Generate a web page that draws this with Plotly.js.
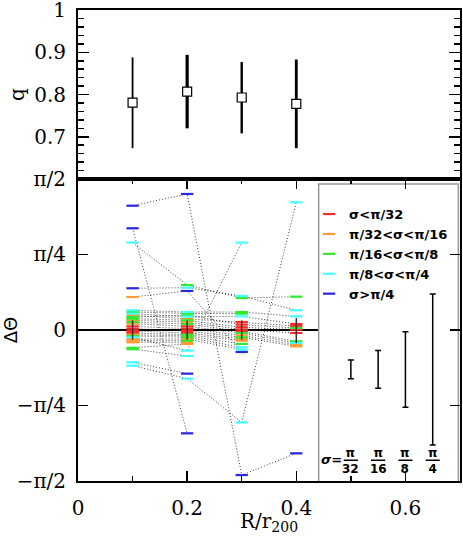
<!DOCTYPE html>
<html><head><meta charset="utf-8">
<script src="https://cdn.plot.ly/plotly-3.0.1.min.js"></script>
<style>html,body{margin:0;padding:0;background:#fff}#chart{width:463px;height:544px}</style>
</head><body><div id="chart"></div>
<script>
// ---------- data ----------
const radii = [0.1, 0.2, 0.3, 0.4];
const qMean = [0.781, 0.807, 0.793, 0.778];
const qHigh = [0.888, 0.894, 0.877, 0.883];
const qLow  = [0.673, 0.720, 0.708, 0.673];

const classLabels = ['σ<π/32', 'π/32<σ<π/16', 'π/16<σ<π/8', 'π/8<σ<π/4', 'σ>π/4'];

// Delta Theta (rad) of each galaxy at R/r200 = 0.1, 0.2, 0.3, 0.4
const dTheta = [
  [ 1.293,  1.415, -1.509, -1.283],
  [ 1.058, -1.075,  null,   null ],
  [ 0.909,  0.468,  0.333,  0.347],
  [ 0.434,  0.440,  0.354,  0.205],
  [ 0.343,  0.406, -0.229,  null ],
  [ 0.205,  0.187,  0.187,  0.142],
  [ 0.187,  0.173,  0.170,  null ],
  [ 0.170,  0.139,  0.142,  0.062],
  [ 0.153,  0.118,  0.083,  0.042],
  [ 0.135,  0.153,  0.056,  0.021],
  [ 0.118,  0.101,  0.028,  0.004],
  [ 0.101,  0.083,  0.004, -0.031],
  [ 0.083,  0.062, -0.014, -0.118],
  [ 0.066,  0.038, -0.031, -0.135],
  [ 0.038,  0.014, -0.056, -0.153],
  [ 0.014, -0.010, -0.076, -0.170],
  [-0.010, -0.031, -0.094,  null ],
  [-0.031, -0.049, -0.111,  null ],
  [-0.049, -0.062, -0.145,  null ],
  [-0.062, -0.076, -0.180,  null ],
  [-0.076, -0.215,  0.909,  null ],
  [-0.094, -0.094, -0.204,  null ],
  [-0.111, -0.111,  null,   null ],
  [-0.128, -0.128,  null,   null ],
  [-0.185, -0.145,  null,   null ],
  [-0.200, -0.270,  null,   null ],
  [-0.336, -0.454,  null,   null ],
  [-0.371, -0.506, -0.961,  1.329]
];
// sigma class of each measurement (0: <pi/32 ... 4: >pi/4)
const sigClass = [
  [4, 4, 4, 4],
  [4, 4, null, null],
  [3, 2, 2, 2],
  [4, 3, 3, 3],
  [1, 4, 4, null],
  [3, 3, 2, 3],
  [2, 2, 2, null],
  [3, 3, 3, 0],
  [1, 1, 0, 0],
  [2, 2, 0, 2],
  [2, 2, 0, 0],
  [1, 1, 0, 0],
  [2, 2, 0, 2],
  [1, 0, 2, 3],
  [0, 0, 1, 1],
  [0, 0, 2, 1],
  [0, 0, 1, null],
  [0, 2, 1, null],
  [1, 1, 2, null],
  [2, 2, 3, null],
  [3, 3, 3, null],
  [1, 1, 3, null],
  [1, 2, null, null],
  [1, 1, null, null],
  [2, 1, null, null],
  [2, 3, null, null],
  [3, 4, null, null],
  [3, 3, 3, 3]
];
const meanDTheta = [0.0, 0.0, 0.0, -0.005];
const errDTheta  = [0.10, 0.10, 0.10, 0.13];

const keyX = [0.5, 0.55, 0.6, 0.65];
const keySigma = [Math.PI / 32, Math.PI / 16, Math.PI / 8, Math.PI / 4];
const keyDenominators = ['32', '16', '8', '4'];
const keyCenter = -0.41;

// ---------- styles ----------
const classColors = ['#ff2a2a', '#ff9a33', '#2eea2e', '#44ffff', '#2828e0'];
const qBarWidths = [1.8, 3.2, 2.4, 2.8];
const serif = 'DejaVu Serif';
const sansB = 'DejaVu Sans';

const traces = [];

// top panel
radii.forEach((r, i) => {
  traces.push({
    type: 'scatter', mode: 'markers', x: [r], y: [qMean[i]],
    xaxis: 'x2', yaxis: 'y2', showlegend: false, hoverinfo: 'skip',
    marker: {symbol: 'square', size: 9, color: '#fff', line: {color: '#000', width: 1.2}},
    error_y: {type: 'data', symmetric: false, array: [qHigh[i] - qMean[i]],
              arrayminus: [qMean[i] - qLow[i]], width: 0, thickness: qBarWidths[i], color: '#000'}
  });
});

// dotted connecting lines
dTheta.forEach(g => {
  traces.push({
    type: 'scatter', mode: 'lines', x: radii, y: g, connectgaps: false,
    xaxis: 'x', yaxis: 'y', showlegend: false, hoverinfo: 'skip',
    line: {color: 'rgba(0,0,0,0.75)', width: 1, dash: '1px,2px'}
  });
});

// colored dashes by sigma class
classLabels.forEach((lab, c) => {
  const xs = [], ys = [];
  dTheta.forEach((g, gi) => {
    g.forEach((v, k) => {
      if (v !== null && sigClass[gi][k] === c) { xs.push(radii[k]); ys.push(v); }
    });
  });
  traces.push({
    type: 'scatter', mode: 'markers', x: xs, y: ys, name: lab,
    xaxis: 'x', yaxis: 'y', hoverinfo: 'skip',
    marker: {symbol: 'line-ew', size: 8.8, color: classColors[c],
             line: {color: classColors[c], width: 2.2}}
  });
});

// mean error bars
traces.push({
  type: 'scatter', mode: 'markers', x: radii, y: meanDTheta, showlegend: false, hoverinfo: 'skip',
  marker: {size: 1, color: 'rgba(0,0,0,0)'},
  error_y: {type: 'data', array: errDTheta, width: 0, thickness: 1.5, color: '#333'}
});

// sigma key bars
traces.push({
  type: 'scatter', mode: 'markers', x: keyX, y: keyX.map(() => keyCenter), showlegend: false, hoverinfo: 'skip',
  marker: {size: 1, color: 'rgba(0,0,0,0)'},
  error_y: {type: 'data', array: keySigma, width: 3, thickness: 1.5, color: '#000'}
});

const annotations = [{
  x: 0.465, y: -1.342, xref: 'x', yref: 'y', text: '<b><i>σ</i>=</b>', showarrow: false,
  font: {family: sansB, size: 13, color: '#000'}
}, {
  x: 0.5, y: -0.056, xref: 'paper', yref: 'paper', xanchor: 'center', yanchor: 'top',
  text: 'R/r<sub>200</sub>', showarrow: false, font: {family: serif, size: 20, color: '#000'}
}];
const fracShapes = [];
keyX.forEach((x, i) => {
  annotations.push({x: x, y: -1.363, xref: 'x', yref: 'y',
    text: '<b>π</b><br><b>' + keyDenominators[i] + '</b>', showarrow: false, borderpad: 0,
    font: {family: sansB, size: 12, color: '#000'}});
  fracShapes.push({type: 'line', xref: 'x', yref: 'y', x0: x - 0.013, x1: x + 0.013,
    y0: -1.355, y1: -1.355, line: {color: '#000', width: 1.5}});
});

const axisCommon = {
  showline: true, linecolor: '#000', linewidth: 2, ticks: 'inside', tickcolor: '#000',
  tickwidth: 1.5, mirror: 'allticks', showgrid: false, zeroline: false,
  ticklabeloverflow: 'allow',
  tickfont: {family: serif, size: 20, color: '#000'}
};

const layout = {
  width: 463, height: 544,
  margin: {l: 78, r: 3, t: 10, b: 63},
  paper_bgcolor: '#fff', plot_bgcolor: '#fff',
  showlegend: true,
  legend: {x: 0.605, y: 0.5985, xanchor: 'left', yanchor: 'top', bgcolor: 'rgba(0,0,0,0)',
           font: {family: sansB, size: 13, color: '#000', weight: 'bold'}, itemclick: false, itemdoubleclick: false},
  xaxis: Object.assign({}, axisCommon, {
    domain: [0, 1], range: [0, 0.7], anchor: 'y', tick0: 0, dtick: 0.2, ticklen: 10,
    minor: {dtick: 0.1, tick0: 0, ticks: 'inside', ticklen: 5, tickcolor: '#000', tickwidth: 1.5},
    ticklabelstandoff: 8
  }),
  yaxis: Object.assign({}, axisCommon, {
    domain: [0, 0.6412], range: [-Math.PI / 2, Math.PI / 2], anchor: 'x',
    tickmode: 'array', tickvals: [-Math.PI / 2, -Math.PI / 4, 0, Math.PI / 4, Math.PI / 2],
    ticktext: ['−π/2', '−π/4', '0', 'π/4', 'π/2'], ticklen: 10, ticklabelstandoff: 6,
    title: {text: 'ΔΘ', font: {family: 'DejaVu Sans', size: 18, color: '#000'}, standoff: 4}
  }),
  xaxis2: Object.assign({}, axisCommon, {
    domain: [0, 1], range: [0, 0.7], anchor: 'y2', matches: 'x', ticks: '', showticklabels: false
  }),
  yaxis2: Object.assign({}, axisCommon, {
    domain: [0.6412, 1], range: [0.6, 1.0002], anchor: 'x2',
    tickmode: 'array', tickvals: [0.7, 0.8, 0.9, 1.0], ticktext: ['0.7', '0.8', '0.9', '1'], ticklen: 11,
    minor: {tickmode: 'linear', tick0: 0.6, dtick: 0.02, ticks: 'inside', ticklen: 6, tickcolor: '#000', tickwidth: 1.5},
    ticklabelstandoff: 6,
    title: {text: 'q', font: {family: serif, size: 20, color: '#000'}, standoff: 4}
  }),
  shapes: [
    {type: 'line', xref: 'x', yref: 'y', x0: 0, x1: 0.7, y0: 0, y1: 0, layer: 'below',
     line: {color: '#000', width: 2}},
    {type: 'rect', xref: 'x', yref: 'y', x0: 0.441, x1: 0.697, y0: -1.58, y1: 1.519, layer: 'below',
     fillcolor: '#fff', line: {color: '#999', width: 1.5}}
  ].concat(fracShapes),
  annotations: annotations
};

Plotly.newPlot('chart', traces, layout, {displayModeBar: false, staticPlot: true});
</script>
</body></html>
